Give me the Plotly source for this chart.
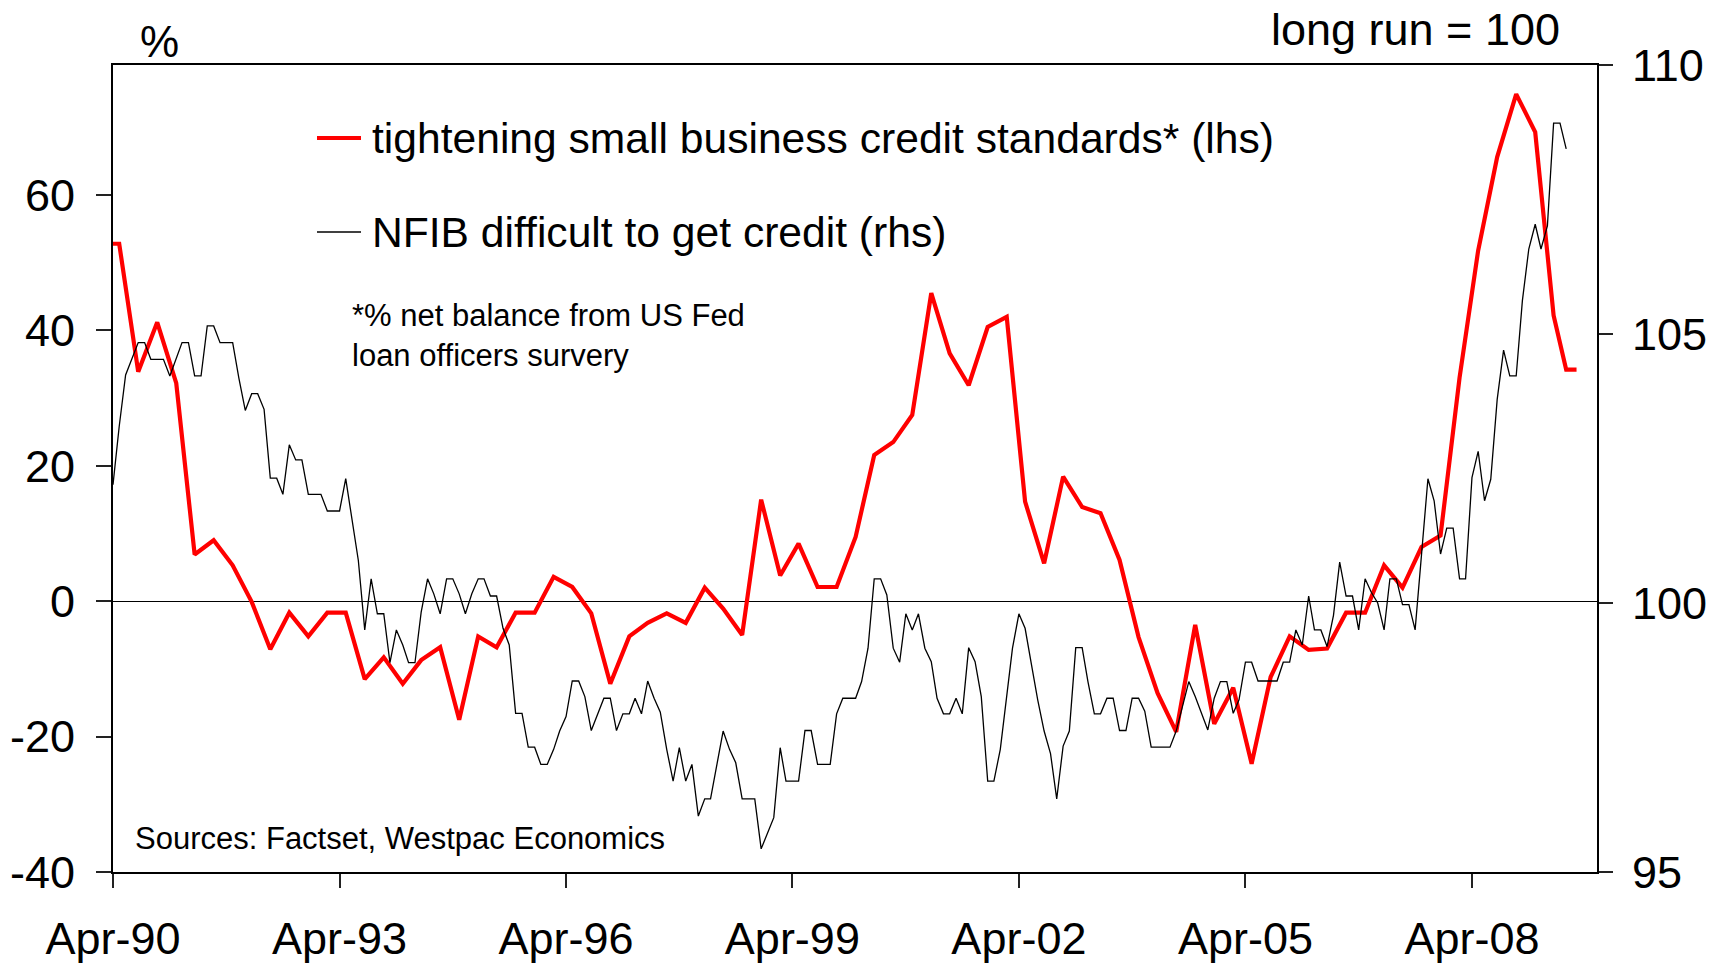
import pandas as pd
import plotly.graph_objects as go

# ---------------- data ----------------
red_dates = [
    "1990-04-01", "1990-05-01", "1990-08-01", "1990-11-01", "1991-02-01", "1991-05-01",
    "1991-08-01", "1991-11-01", "1992-02-01", "1992-05-01", "1992-08-01", "1992-11-01",
    "1993-02-01", "1993-05-01", "1993-08-01", "1993-11-01", "1994-02-01", "1994-05-01",
    "1994-08-01", "1994-11-01", "1995-02-01", "1995-05-01", "1995-08-01", "1995-11-01",
    "1996-02-01", "1996-05-01", "1996-08-01", "1996-11-01", "1997-02-01", "1997-05-01",
    "1997-08-01", "1997-11-01", "1998-02-01", "1998-05-01", "1998-08-01", "1998-11-01",
    "1999-02-01", "1999-05-01", "1999-08-01", "1999-11-01", "2000-02-01", "2000-05-01",
    "2000-08-01", "2000-11-01", "2001-02-01", "2001-05-01", "2001-08-01", "2001-11-01",
    "2002-02-01", "2002-05-01", "2002-08-01", "2002-11-01", "2003-02-01", "2003-05-01",
    "2003-08-01", "2003-11-01", "2004-02-01", "2004-05-01", "2004-08-01", "2004-11-01",
    "2005-02-01", "2005-05-01", "2005-08-01", "2005-11-01", "2006-02-01", "2006-05-01",
    "2006-08-01", "2006-11-01", "2007-02-01", "2007-05-01", "2007-08-01", "2007-11-01",
    "2008-02-01", "2008-05-01", "2008-08-01", "2008-11-01", "2009-02-01", "2009-05-01",
    "2009-07-01", "2009-08-20",
]
red_values = [
    52.8, 52.8, 33.9, 41.2, 32.2, 6.9,
    9.0, 5.3, -0.1, -7.1, -1.7, -5.2,
    -1.7, -1.7, -11.5, -8.3, -12.2, -8.7,
    -6.8, -17.5, -5.2, -6.8, -1.7, -1.7,
    3.6, 2.1, -1.8, -12.2, -5.2, -3.2,
    -1.8, -3.2, 2.0, -1.1, -5.0, 15.0,
    3.8, 8.5, 2.1, 2.1, 9.5, 21.6,
    23.5, 27.5, 45.5, 36.6, 31.9, 40.5,
    42.0, 14.7, 5.6, 18.4, 13.9, 13.0,
    6.1, -5.3, -13.6, -19.3, -3.5, -18.1,
    -12.8, -24.0, -11.2, -5.2, -7.2, -7.0,
    -1.7, -1.7, 5.3, 2.0, 8.0, 9.7,
    33.0, 51.8, 65.6, 74.9, 69.3, 42.2,
    34.2, 34.2,
]

nfib_start = "1990-04-01"
nfib_values = [
    102.2, 103.28, 104.24, 104.55, 104.84, 104.84, 104.53, 104.53, 104.53, 104.22, 104.53, 104.84,
    104.84, 104.22, 104.22, 105.15, 105.15, 104.84, 104.84, 104.84, 104.18, 103.58, 103.89, 103.89,
    103.60, 102.32, 102.32, 102.02, 102.94, 102.66, 102.66, 102.02, 102.02, 102.02, 101.71, 101.71,
    101.71, 102.31, 101.5, 100.79, 99.50, 100.45, 99.80, 99.80, 98.89, 99.50, 99.22, 98.89,
    98.89, 99.83, 100.45, 100.17, 99.80, 100.45, 100.45, 100.17, 99.80, 100.17, 100.45, 100.45,
    100.13, 100.13, 99.53, 99.22, 97.95, 97.95, 97.32, 97.32, 97.0, 97.0, 97.28, 97.62,
    97.89, 98.55, 98.55, 98.26, 97.63, 97.92, 98.23, 98.23, 97.63, 97.94, 97.94, 98.23,
    97.94, 98.55, 98.23, 97.97, 97.28, 96.69, 97.31, 96.69, 97.0, 96.04, 96.36, 96.36,
    97.03, 97.62, 97.28, 97.03, 96.36, 96.36, 96.36, 95.43, 95.71, 96.01, 97.31, 96.69,
    96.69, 96.69, 97.63, 97.63, 97.0, 97.0, 97.0, 97.94, 98.23, 98.23, 98.23, 98.54,
    99.16, 100.45, 100.45, 100.15, 99.16, 98.90, 99.80, 99.50, 99.80, 99.16, 98.91, 98.23,
    97.94, 97.94, 98.23, 97.94, 99.17, 98.91, 98.26, 96.69, 96.69, 97.28, 98.26, 99.16,
    99.80, 99.53, 98.85, 98.20, 97.62, 97.2, 96.36, 97.34, 97.62, 99.17, 99.17, 98.54,
    97.94, 97.94, 98.23, 98.23, 97.63, 97.63, 98.23, 98.23, 97.99, 97.32, 97.32, 97.32,
    97.32, 97.62, 98.1, 98.54, 98.26, 97.95, 97.64, 98.23, 98.54, 98.54, 97.95, 98.20,
    98.90, 98.90, 98.55, 98.55, 98.55, 98.55, 98.90, 98.90, 99.50, 99.22, 100.13, 99.50,
    99.50, 99.19, 99.77, 100.76, 100.13, 100.13, 99.50, 100.45, 100.2, 100.0, 99.50, 100.45,
    100.45, 99.97, 99.97, 99.50, 100.9, 102.31, 101.90, 100.91, 101.39, 101.39, 100.45, 100.45,
    102.33, 102.82, 101.90, 102.30, 103.78, 104.70, 104.22, 104.22, 105.62, 106.58, 107.04, 106.58,
    107.01, 108.92, 108.92, 108.44,
]
nfib_dates = pd.date_range(nfib_start, periods=len(nfib_values), freq="MS")

x_tick_dates = ["1990-04-01", "1993-04-01", "1996-04-01", "1999-04-01",
                "2002-04-01", "2005-04-01", "2008-04-01"]
x_tick_labels = ["Apr-90", "Apr-93", "Apr-96", "Apr-99", "Apr-02", "Apr-05", "Apr-08"]
left_ticks = [-40, -20, 0, 20, 40, 60]
left_tick_labels = ["-40", "-20", "0", "20", "40", "60"]
right_ticks = [95, 100, 105, 110]
right_tick_labels = ["95", "100", "105", "110"]

red_name = "tightening small business credit standards* (lhs)"
black_name = "NFIB difficult to get credit (rhs)"

# ---------------- figure ----------------
W, H = 1725, 969
L, R, T, B = 113, 1597, 65, 872
FONT = "Liberation Sans, Arial, Helvetica, sans-serif"

def px(x):
    return (x - L) / (R - L)

def py(y):
    return (B - y) / (B - T)

fig = go.Figure()
fig.add_trace(go.Scatter(
    x=red_dates, y=red_values, name=red_name, mode="lines",
    line=dict(color="#FF0000", width=4.2), yaxis="y", showlegend=False,
))
fig.add_trace(go.Scatter(
    x=nfib_dates, y=nfib_values, name=black_name, mode="lines",
    line=dict(color="#000000", width=1.3), yaxis="y2", showlegend=False,
))

axis_font = dict(family=FONT, size=45, color="#000000")

fig.update_layout(
    width=W, height=H,
    margin=dict(l=L, r=W - R, t=T, b=H - B, pad=0, autoexpand=False),
    paper_bgcolor="white", plot_bgcolor="white",
    font=dict(family=FONT, color="#000000"),
    xaxis=dict(
        type="date", range=["1990-04-01", "2009-11-27"], automargin=False,
        tickvals=x_tick_dates, ticktext=x_tick_labels,
        ticks="outside", ticklen=14, tickwidth=1.5, tickcolor="#222222",
        showline=True, linecolor="#000000", linewidth=2, mirror=True,
        showgrid=False, zeroline=False, tickfont=axis_font,
        ticklabelstandoff=12,
    ),
    yaxis=dict(
        range=[-40, 79.2], tickvals=left_ticks, ticktext=left_tick_labels,
        automargin=False,
        ticks="outside", ticklen=15, tickwidth=1.5, tickcolor="#222222",
        showline=True, linecolor="#000000", linewidth=2,
        showgrid=False, zeroline=True, zerolinecolor="#000000", zerolinewidth=1.2,
        tickfont=axis_font, ticklabelstandoff=12,
    ),
    yaxis2=dict(
        range=[95, 110], tickvals=right_ticks, ticktext=right_tick_labels,
        overlaying="y", side="right", automargin=False,
        ticks="outside", ticklen=14, tickwidth=1.5, tickcolor="#222222",
        showline=True, linecolor="#000000", linewidth=2,
        showgrid=False, zeroline=False, tickfont=axis_font, ticklabelstandoff=10,
    ),
)

# legend drawn as line samples + text
legend_rows = [
    (138, "#FF0000", 4.2, red_name),
    (232, "#000000", 1.3, black_name),
]
for yy, col, wd, txt in legend_rows:
    fig.add_shape(type="line", xref="paper", yref="paper",
                  x0=px(317), x1=px(361), y0=py(yy), y1=py(yy),
                  line=dict(color=col, width=wd))
    fig.add_annotation(xref="paper", yref="paper", x=px(370), y=py(yy),
                       xanchor="left", yanchor="middle", showarrow=False,
                       text=txt, font=dict(family=FONT, size=42.6, color="#000000"))

fig.add_annotation(xref="paper", yref="paper", x=px(350), y=py(335),
                   xanchor="left", yanchor="middle", showarrow=False, align="left",
                   text="*% net balance from US Fed<br>loan officers survery",
                   font=dict(family=FONT, size=31, color="#000000"))
fig.add_annotation(xref="paper", yref="paper", x=px(133), y=py(838),
                   xanchor="left", yanchor="middle", showarrow=False,
                   text="Sources: Factset, Westpac Economics",
                   font=dict(family=FONT, size=31, color="#000000"))
fig.add_annotation(xref="paper", yref="paper", x=px(159), y=py(42),
                   xanchor="center", yanchor="middle", showarrow=False,
                   text="%", font=dict(family=FONT, size=44, color="#000000"))
fig.add_annotation(xref="paper", yref="paper", x=px(1562), y=py(29),
                   xanchor="right", yanchor="middle", showarrow=False,
                   text="long run = 100", font=dict(family=FONT, size=45, color="#000000"))

fig.write_html("out.html")
